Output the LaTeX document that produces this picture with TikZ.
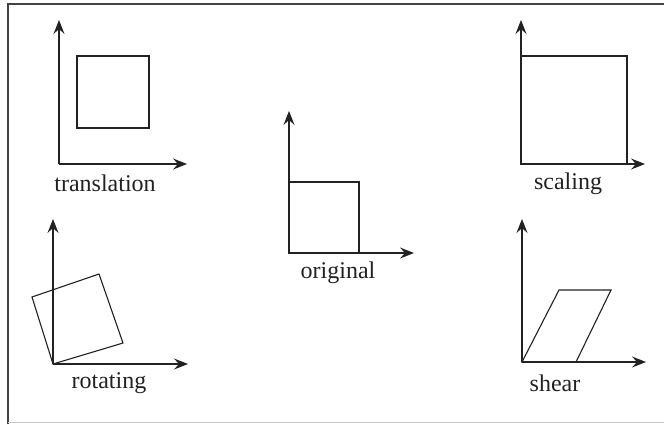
\documentclass[tikz,border=0pt]{standalone}
\usepackage{fontspec}
\setmainfont{Liberation Serif}
\usetikzlibrary{arrows.meta}
\definecolor{ink}{HTML}{222222}
\tikzset{
  axis/.style={draw=ink, line width=1.2pt, -{Stealth[length=14pt,width=11pt,inset=5pt]}},
  figline/.style={draw=ink, line width=1.1pt, line join=miter},
  lbl/.style={font=\fontsize{24}{27}\selectfont, text=ink, inner sep=0pt, anchor=center}
}
\begin{document}
\begin{tikzpicture}[x=1pt,y=-1pt]
\useasboundingbox (0,0) rectangle (664,424);
\fill[white] (0,0) rectangle (664,424);
% frame
\draw[draw=ink!85, line width=1.4pt] (8,424) -- (8,4) -- (664,4);
\draw[draw=ink!25, line width=1pt] (8,422) -- (664,422);

% translation
\coordinate (tO) at (59,164);
\coordinate (tY) at (59,20);
\coordinate (tX) at (187,164);
\draw[axis] (tO) -- (tY);
\draw[axis] (tO) -- (tX);
\draw[figline] (77,56) rectangle (149,128);
\node[lbl] (tL) at (105,183) {translation};

% scaling
\coordinate (sO) at (521,164);
\coordinate (sY) at (521,20);
\coordinate (sX) at (645,164);
\draw[axis] (sO) -- (sY);
\draw[axis] (sO) -- (sX);
\draw[figline] (521,56) rectangle (627,164);
\node[lbl] (sL) at (568,184) {scaling};

% original
\coordinate (oO) at (289,253);
\coordinate (oY) at (289,111);
\coordinate (oX) at (414,253);
\draw[axis] (oO) -- (oY);
\draw[axis] (oO) -- (oX);
\draw[figline] (289,182) rectangle (359,253);
\node[lbl] (oL) at (338,273) {original};

% rotating
\coordinate (rO) at (53,364);
\coordinate (rY) at (53,219);
\coordinate (rX) at (188,364);
\draw[axis] (rO) -- (rY);
\draw[axis] (rO) -- (rX);
\draw[figline] (rO) -- (123,343) -- (99,274) -- (32,297) -- cycle;
\node[lbl] (rL) at (109,383) {rotating};

% shear
\coordinate (hO) at (522,362);
\coordinate (hY) at (522,219);
\coordinate (hX) at (646,362);
\draw[axis] (hO) -- (hY);
\draw[axis] (hO) -- (hX);
\draw[figline] (hO) -- (576,362) -- (611,290) -- (559,290) -- cycle;
\node[lbl] (hL) at (555,383) {shear};
\end{tikzpicture}
\end{document}
